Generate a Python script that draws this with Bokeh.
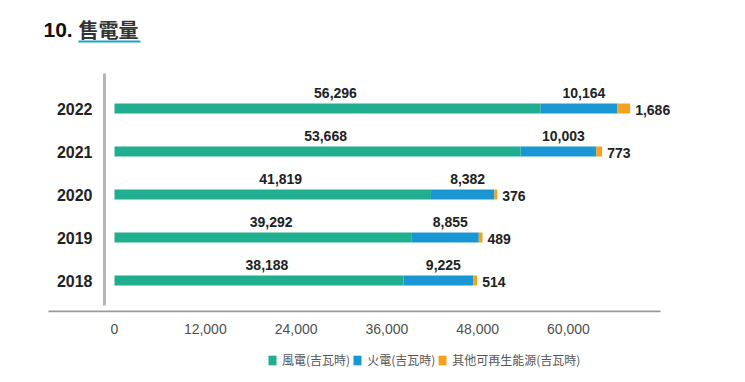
from bokeh.plotting import figure
from bokeh.layouts import column
from bokeh.models import Range1d, FixedTicker, Label, Legend, LegendItem, ColumnDataSource
from bokeh.core.properties import value
from bokeh.embed import file_html
from bokeh.resources import INLINE

# ---- data ----
years = ["2018", "2019", "2020", "2021", "2022"]
wind = [38188, 39292, 41819, 53668, 56296]
thermal = [9225, 8855, 8382, 10003, 10164]
other = [514, 489, 376, 773, 1686]
ticks = [0, 12000, 24000, 36000, 48000, 60000]
tick_labels = ["0", "12,000", "24,000", "36,000", "48,000", "60,000"]
series_names = ["風電(吉瓦時)", "火電(吉瓦時)", "其他可再生能源(吉瓦時)"]
title_num = "10."
title_text = "售電量"

GREEN = "#1FAE8E"
BLUE = "#1A97D3"
ORANGE = "#F6A21E"

# pixel -> data conversion factors (layout only)
PX = 12000 / 90.8
PY = 1 / 43.0

ys = list(range(len(years)))
thermal_right = [w + t for w, t in zip(wind, thermal)]
total = [w + t + o for w, t, o in zip(wind, thermal, other)]

src = ColumnDataSource(dict(
    y=ys,
    year=years,
    wind=wind,
    thermal_left=wind,
    thermal_right=thermal_right,
    total=total,
    wind_mid=[w / 2 for w in wind],
    thermal_mid=[w + t / 2 for w, t in zip(wind, thermal)],
    wind_lbl=[f"{v:,}" for v in wind],
    thermal_lbl=[f"{v:,}" for v in thermal],
    other_lbl=[f"{v:,}" for v in other],
    zero=[0] * len(years),
))

p = figure(width=745, height=345, output_backend="svg", toolbar_location=None,
           x_range=Range1d(-74 * PX, 556 * PX),
           y_range=Range1d(-32 * PY, 280 * PY),
           y_axis_location=None,
           min_border_left=40, min_border_right=75, min_border_top=0, min_border_bottom=33)
p.outline_line_color = None
p.grid.visible = False
p.background_fill_color = "white"
p.border_fill_color = "white"

ax = p.xaxis[0]
ax.ticker = FixedTicker(ticks=ticks)
ax.major_label_overrides = {t: l for t, l in zip(ticks, tick_labels)}
ax.axis_line_color = None
ax.major_tick_line_color = None
ax.minor_tick_line_color = None
ax.major_label_standoff = 5
ax.major_label_text_font_size = "14px"
ax.major_label_text_font = "Liberation Sans"
ax.major_label_text_color = "#505050"

# baseline and vertical guide lines
p.segment(x0=-66 * PX, y0=-31 * PY, x1=546 * PX, y1=-31 * PY, line_color="#9a9a9a", line_width=2)
p.segment(x0=-10 * PX, y0=-25 * PY, x1=-10 * PX, y1=207 * PY, line_color="#b5b5b5", line_width=3)

h = 10 * PY
bar_kw = dict(y="y", height=h, source=src, line_color=None)
r1 = p.hbar(left="zero", right="wind", fill_color=GREEN, **bar_kw)
r2 = p.hbar(left="thermal_left", right="thermal_right", fill_color=BLUE, **bar_kw)
r3 = p.hbar(left="thermal_right", right="total", fill_color=ORANGE, **bar_kw)

# year labels
p.text(x="zero", y="y", text="year", source=src, x_offset=-22, text_align="right", text_baseline="middle",
       text_font=value("Liberation Sans"), text_font_style="bold", text_font_size="16px", text_color="#222222")

lbl_kw = dict(source=src, text_font=value("Liberation Sans"), text_font_style="bold",
              text_font_size="14px", text_color="#222222", text_baseline="middle")
p.text(x="wind_mid", y="y", text="wind_lbl", x_offset=8, y_offset=-16, text_align="center", **lbl_kw)
p.text(x="thermal_mid", y="y", text="thermal_lbl", x_offset=5, y_offset=-16, text_align="center", **lbl_kw)
p.text(x="total", y="y", text="other_lbl", x_offset=5, y_offset=1, text_align="left", **lbl_kw)

# title and underline
p.segment(x0=-36 * PX, y0=239 * PY, x1=26 * PX, y1=239 * PY, line_color="#1AA5CF", line_width=2)
p.add_layout(Label(x=0, y=251 * PY, x_offset=-71, text=title_num, text_baseline="middle",
                   text_font="Liberation Sans", text_font_style="bold", text_font_size="21px",
                   text_color="#111111"))
p.add_layout(Label(x=0, y=251 * PY, x_offset=-36, text=title_text, text_baseline="middle",
                   text_font="Noto Sans CJK TC", text_font_style="bold", text_font_size="20px",
                   text_color="#333333"))

# legend strip
p2 = figure(width=745, height=37, output_backend="svg", toolbar_location=None,
            x_range=Range1d(0, 1), y_range=Range1d(100, 101),
            x_axis_location=None, y_axis_location=None,
            min_border_left=0, min_border_right=0, min_border_top=0, min_border_bottom=0)
p2.outline_line_color = None
p2.grid.visible = False
l1 = p2.hbar(left="zero", right="wind", fill_color=GREEN, **bar_kw)
l2 = p2.hbar(left="thermal_left", right="thermal_right", fill_color=BLUE, **bar_kw)
l3 = p2.hbar(left="thermal_right", right="total", fill_color=ORANGE, **bar_kw)
legend = Legend(items=[LegendItem(label=series_names[0], renderers=[l1], index=0),
                       LegendItem(label=series_names[1], renderers=[l2], index=0),
                       LegendItem(label=series_names[2], renderers=[l3], index=0)],
                orientation="horizontal", location=(227, 14),
                padding=0, margin=0, spacing=2, label_standoff=5,
                glyph_width=10, glyph_height=12, label_height=12,
                label_text_font="Noto Sans CJK TC", label_text_font_size="12px",
                label_text_color="#555555", border_line_color=None, background_fill_alpha=0)
p2.add_layout(legend)

layout = column(p, p2, spacing=0)
open("out.html", "w").write(file_html(layout, INLINE))
